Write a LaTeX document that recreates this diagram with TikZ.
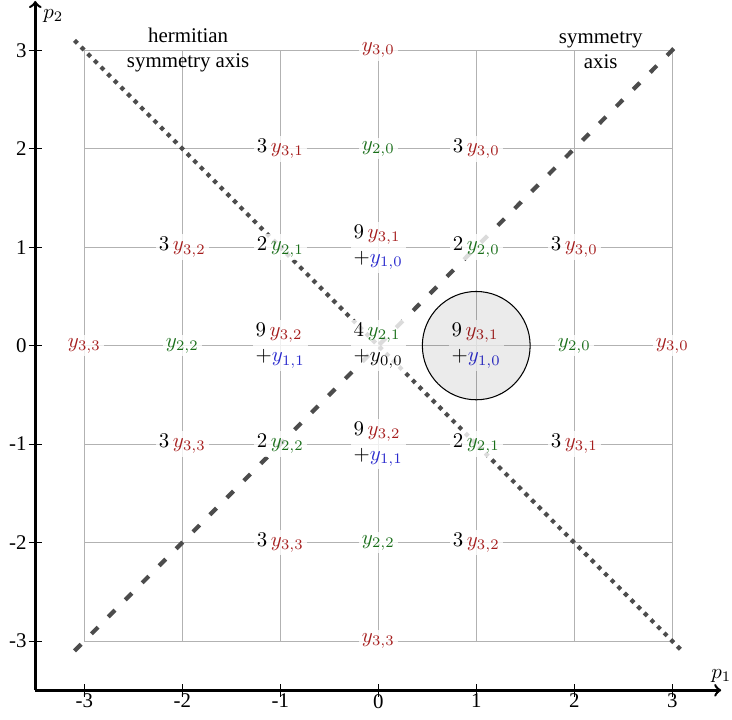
\documentclass[tikz,border=0pt]{standalone}
\usepackage{fontspec}
\setmainfont{Liberation Serif}
\definecolor{cr}{RGB}{165,28,28}
\definecolor{cg}{RGB}{25,110,25}
\definecolor{cb}{RGB}{40,40,205}
\newcommand{\yr}[1]{{\color{cr}y_{#1}}}
\newcommand{\yg}[1]{{\color{cg}y_{#1}}}
\newcommand{\yb}[1]{{\color{cb}y_{#1}}}
\tikzset{
  gridline/.style={gray!60, line width=0.5pt},
  diagline/.style={black!70, line width=2pt},
  dotline/.style={diagline, dash pattern=on 2pt off 2.5pt},
  dashline/.style={diagline, dash pattern=on 4.5pt off 7pt},
  lab/.style={fill=white, fill opacity=0.8, text opacity=1, inner sep=1.5pt, align=left},
  axisline/.style={->, line width=1.2pt},
  tickline/.style={line width=0.5pt},
  xtick/.style={anchor=north, inner sep=0pt},
  ytick/.style={anchor=east, inner sep=0pt},
  note/.style={align=center, inner sep=0pt},
  hilite/.style={draw=black, line width=0.5pt, fill=black, fill opacity=0.08}
}
\begin{document}
\begin{tikzpicture}[x=1.65cm,y=1.658cm]
\useasboundingbox (-3.86,-3.80) rectangle (3.61,3.51);
% grid
\foreach \g in {-3,...,3} {
  \draw[gridline] (\g,-3) -- (\g,3);
  \draw[gridline] (-3,\g) -- (3,\g);
}
% diagonals
\coordinate (d1a) at (-3.1,3.1);
\coordinate (d1b) at (3.1,-3.1);
\coordinate (d2a) at (-3.1,-3.1);
\coordinate (d2b) at (3.1,3.1);
\draw[dotline] (d1a) -- (d1b);
\draw[dashline] (d2a) -- (d2b);
% labels
\node[lab] (n0p3) at (0,3) {$\yr{3,0}$};
\node[lab] (nm1p2) at (-1,2) {$3\,\yr{3,1}$};
\node[lab] (n0p2) at (0,2) {$\yg{2,0}$};
\node[lab] (n1p2) at (1,2) {$3\,\yr{3,0}$};
\node[lab] (nm2p1) at (-2,1) {$3\,\yr{3,2}$};
\node[lab] (nm1p1) at (-1,1) {$2\,\yg{2,1}$};
\node[lab] (n0p1) at (0,1) {$9\,\yr{3,1}$\\$+\yb{1,0}$};
\node[lab] (n1p1) at (1,1) {$2\,\yg{2,0}$};
\node[lab] (n2p1) at (2,1) {$3\,\yr{3,0}$};
\node[lab] (nm3p0) at (-3,0) {$\yr{3,3}$};
\node[lab] (nm2p0) at (-2,0) {$\yg{2,2}$};
\node[lab] (nm1p0) at (-1,0) {$9\,\yr{3,2}$\\$+\yb{1,1}$};
\node[lab] (n0p0) at (0,0) {$4\,\yg{2,1}$\\$+y_{0,0}$};
\node[lab] (n1p0) at (1,0) {$9\,\yr{3,1}$\\$+\yb{1,0}$};
\node[lab] (n2p0) at (2,0) {$\yg{2,0}$};
\node[lab] (n3p0) at (3,0) {$\yr{3,0}$};
\node[lab] (nm2m1) at (-2,-1) {$3\,\yr{3,3}$};
\node[lab] (nm1m1) at (-1,-1) {$2\,\yg{2,2}$};
\node[lab] (n0m1) at (0,-1) {$9\,\yr{3,2}$\\$+\yb{1,1}$};
\node[lab] (n1m1) at (1,-1) {$2\,\yg{2,1}$};
\node[lab] (n2m1) at (2,-1) {$3\,\yr{3,1}$};
\node[lab] (nm1m2) at (-1,-2) {$3\,\yr{3,3}$};
\node[lab] (n0m2) at (0,-2) {$\yg{2,2}$};
\node[lab] (n1m2) at (1,-2) {$3\,\yr{3,2}$};
\node[lab] (n0m3) at (0,-3) {$\yr{3,3}$};
% highlight circle
\draw[hilite] (1,0) circle (0.55);
% axis notes
\node[note] (herm) at (-1.94,3) {hermitian\\symmetry axis};
\node[note] (symm) at (2.27,3) {symmetry\\axis};
% axes
\coordinate (o) at (-3.5,-3.5);
\coordinate (xe) at (3.5,-3.5);
\coordinate (ye) at (-3.5,3.5);
\draw[axisline] (o) -- (xe) node[above] (p1) {$p_1$};
\draw[axisline] (o) -- (ye) node[below right] (p2) {$p_2$};
\foreach \v/\t in {-3/-3,-2/-2,-1/-1,0/0,1/1,2/2,3/3} {
  \draw[tickline] (\v,-3.567) -- (\v,-3.433);
  \node[xtick] (xt\v) at (\v,-3.535) {\t};
  \draw[tickline] (-3.567,\v) -- (-3.433,\v);
  \node[ytick] (yt\v) at (-3.585,\v) {\t};
}
\end{tikzpicture}
\end{document}
